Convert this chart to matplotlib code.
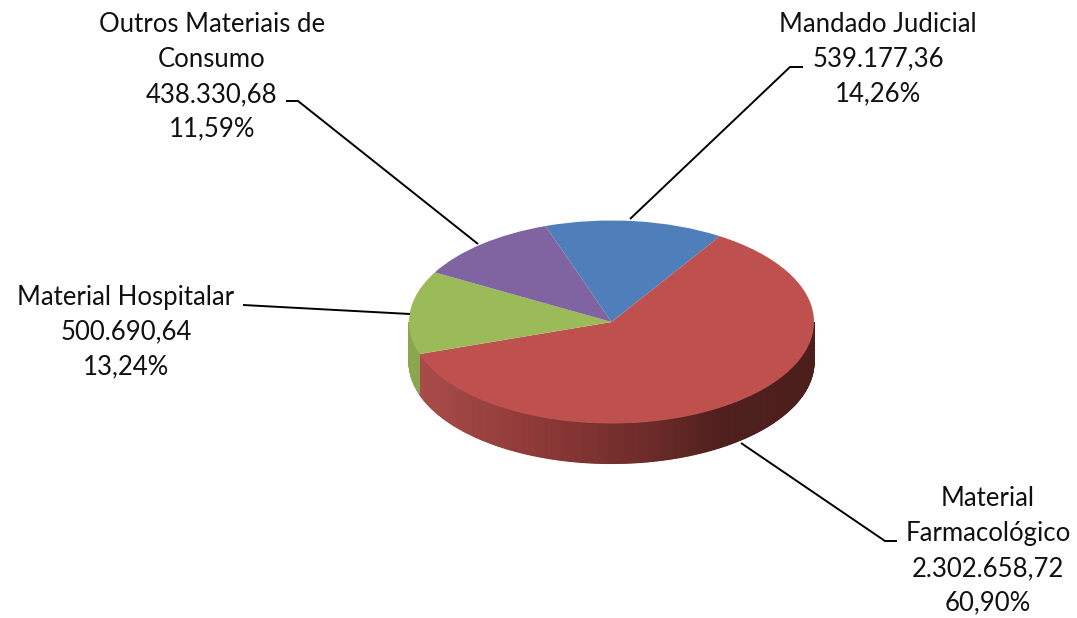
import numpy as np
import matplotlib
matplotlib.use("Agg")
import matplotlib.pyplot as plt
from matplotlib.colors import LinearSegmentedColormap

categories = ["Mandado Judicial", "Material\nFarmacológico", "Material Hospitalar", "Outros Materiais de\nConsumo"]
values = [539177.36, 2302658.72, 500690.64, 438330.68]
value_labels = ["539.177,36", "2.302.658,72", "500.690,64", "438.330,68"]
pct_labels = ["14,26%", "60,90%", "13,24%", "11,59%"]
colors = ["#4F7FBB", "#BE504E", "#9BBB59", "#8064A2"]

W, H = 1077, 618
CX, CY, RX, RY, DEPTH = 611.5, 322, 202.5, 101.5, 40
START = -19.0  # clockwise from top

fig = plt.figure(figsize=(W / 100, H / 100), dpi=100, facecolor="white")
ax = fig.add_axes([0, 0, 1, 1])
ax.pie(values, colors=colors, startangle=90 - START, counterclock=False, radius=1,
       wedgeprops=dict(linewidth=0))
ax.set_aspect("auto")
ax.set_xlim(-CX / RX, (W - CX) / RX)
ax.set_ylim((CY - H) / RY, CY / RY)
ax.set_axis_off()

# side wall of the pie: only the near half (90..270 degrees clockwise from top) shows
fracs = np.array(values) / np.sum(values)
edges = START + np.concatenate([[0], np.cumsum(fracs)]) * 360
d = DEPTH / RY
wall_cmap = LinearSegmentedColormap.from_list(
    "wall", [(0, "#A84C4A"), (0.28, "#8E3A38"), (0.6, "#6A2A28"), (0.76, "#4E1F1D"), (1, "#4C1E1C")])
green_wall = "#8AA650"
for i in range(len(values)):
    l, h = max(edges[i], 90), min(edges[i + 1], 270)
    if h <= l:
        continue
    t = np.linspace(l, h, int((h - l) * 1.5) + 2)
    for a, b in zip(t[:-1], t[1:]):
        ang = np.radians([a, b])
        x, y = np.sin(ang), np.cos(ang)
        if i == 1:
            c = wall_cmap(np.clip((np.sin(np.radians((a + b) / 2)) + 0.945) / 1.945, 0, 1))
        else:
            c = green_wall
        ax.fill([x[0], x[1], x[1], x[0]], [y[0], y[1], y[1] - d, y[0] - d],
                color=c, lw=0.8, zorder=0.5)

# overlay in pixel space for labels and leader lines
ov = fig.add_axes([0, 0, 1, 1], zorder=3)
ov.set_xlim(0, W)
ov.set_ylim(H, 0)
ov.set_axis_off()
ov.patch.set_alpha(0)

leaders = [
    ([803, 790, 630], [67, 67, 219]),
    ([897, 885, 741], [541, 541, 443]),
    ([243, 410], [305, 314]),
    ([286, 298, 478], [101, 101, 244]),
]
for lx, ly in leaders:
    ov.plot(lx, ly, color="black", lw=1.4, solid_capstyle="butt", solid_joinstyle="miter")

label_pos = [(878, 59), (988, 551), (126, 332), (212, 77)]
for name, val, pct, (x, y) in zip(categories, value_labels, pct_labels, label_pos):
    ov.text(x, y, f"{name}\n{val}\n{pct}", ha="center", va="center", family="Lato",
            fontsize=18.5, color="#111111", linespacing=1.49)

fig.savefig("out.png", dpi=100, facecolor="white")
